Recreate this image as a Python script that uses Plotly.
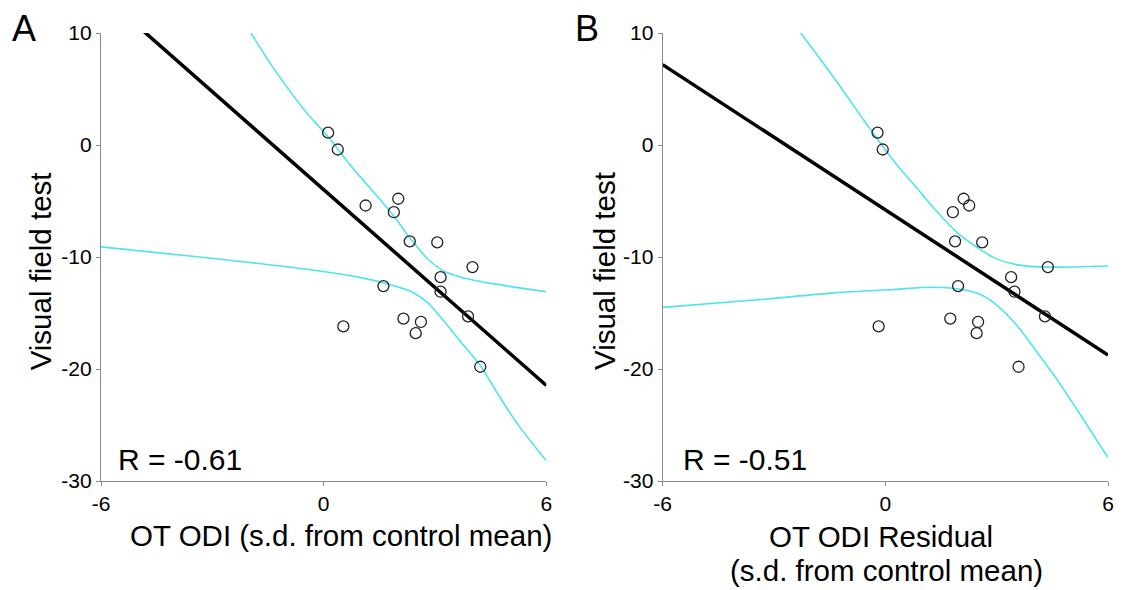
import numpy as np
import plotly.graph_objects as go
from plotly.subplots import make_subplots

# ---- Data ----
visual_field = [1.1, -0.4, -5.4, -4.8, -6.0, -8.6, -8.7, -10.9, -11.8, -13.1,
                -12.6, -16.2, -15.5, -15.8, -16.8, -15.3, -19.8]
ot_odi = [0.12, 0.38, 1.13, 2.01, 1.89, 2.32, 3.06, 4.01, 3.15, 3.15,
          1.61, 0.53, 2.15, 2.62, 2.48, 3.89, 4.22]
ot_odi_resid = [-0.21, -0.07, 2.26, 2.11, 1.82, 1.88, 2.61, 4.38, 3.39, 3.48,
                1.96, -0.18, 1.75, 2.50, 2.46, 4.30, 3.59]

# confidence band curves (panel A)
a_low_x = [-6.0, -3.35, -0.67, 0.94, 1.83, 2.37, 2.81, 3.26, 3.70, 4.24, 4.69, 5.22, 6.0]
a_low_y = [-9.1, -10.0, -11.0, -11.8, -12.5, -13.1, -14.1, -15.8, -17.6, -19.8, -22.2, -24.9, -28.2]
a_up_x = [-1.96, -1.38, -0.49, 0.13, 0.67, 1.29, 1.83, 2.37, 2.81, 3.26, 3.70, 4.60, 6.0]
a_up_y = [10.0, 7.0, 3.0, 0.7, -1.6, -4.0, -6.1, -8.5, -10.2, -11.3, -11.8, -12.4, -13.1]
# confidence band curves (panel B)
b_low_x = [-6.0, -3.35, -1.38, 0.22, 1.29, 2.14, 2.59, 3.04, 3.57, 4.11, 4.64, 5.18, 6.0]
b_low_y = [-14.5, -13.8, -13.2, -12.9, -12.7, -12.95, -13.4, -14.4, -16.2, -18.6, -21.0, -23.7, -27.9]
b_up_x = [-2.28, -1.34, -0.45, 0.27, 0.89, 1.43, 1.96, 2.50, 2.95, 3.57, 4.37, 6.0]
b_up_y = [10.0, 5.8, 1.6, -1.6, -4.0, -6.1, -7.9, -9.2, -10.1, -10.7, -10.9, -10.8]

r_labels = ["R = -0.61", "R = -0.51"]
panel_letters = ["A", "B"]
x_ticks = [-6, 0, 6]
x_tick_text = ["-6", "0", "6"]
y_ticks = [10, 0, -10, -20, -30]
y_tick_text = ["10", "0", "-10", "-20", "-30"]

FONT = "Liberation Sans, Arial, Helvetica, sans-serif"
CYAN = "#4fe3ef"

fig = make_subplots(rows=1, cols=2)

grid = np.array([-6.0, 6.0])
panels = [
    (ot_odi, (a_low_x, a_low_y), (a_up_x, a_up_y)),
    (ot_odi_resid, (b_low_x, b_low_y), (b_up_x, b_up_y)),
]
for col, (xs, low, up) in enumerate(panels, start=1):
    b, a = np.polyfit(np.asarray(xs), np.asarray(visual_field), 1)
    for bx, by in (low, up):
        fig.add_trace(go.Scatter(x=bx, y=by, mode="lines",
                                 line=dict(color=CYAN, width=1.6, shape="spline",
                                           smoothing=0.8),
                                 hoverinfo="skip", showlegend=False), row=1, col=col)
    fig.add_trace(go.Scatter(x=grid, y=a + b * grid, mode="lines",
                             line=dict(color="black", width=3.5),
                             showlegend=False), row=1, col=col)
    fig.add_trace(go.Scatter(x=xs, y=visual_field, mode="markers",
                             marker=dict(symbol="circle-open", size=11,
                                         color="#222", line=dict(width=1.3)),
                             showlegend=False, cliponaxis=False), row=1, col=col)

axis_common = dict(showgrid=False, zeroline=False, showline=True,
                   linecolor="#8a8a8a", linewidth=1.2, ticks="outside",
                   ticklen=4, tickcolor="#8a8a8a", tickwidth=1.2,
                   tickfont=dict(family=FONT, size=21, color="black"))

W, H = 1125, 590
L, R, T, B = 101, 11, 33, 109
pw = W - L - R
ph = H - T - B

for i in (1, 2):
    fig.update_xaxes(range=[-6, 6], tickvals=x_ticks, ticktext=x_tick_text,
                     **axis_common, row=1, col=i)
    fig.update_yaxes(range=[-30, 10], tickvals=y_ticks, ticktext=y_tick_text,
                     **axis_common, row=1, col=i)
fig.update_xaxes(domain=[0, 448 / pw], row=1, col=1)
fig.update_xaxes(domain=[(666 - L) / pw, 1], row=1, col=2)


def px(xp):
    return (xp - L) / pw


def py(yp):
    return (H - B - yp) / ph


TITLE = 29.5
ann = []
for letter, xx in zip(panel_letters, [24, 590]):
    ann.append(dict(text=letter, x=px(xx), y=py(28), xref="paper", yref="paper",
                    showarrow=False, font=dict(family=FONT, size=36, color="black"),
                    xanchor="center", yanchor="middle"))
for lab, xx in zip(r_labels, [116, 684]):
    ann.append(dict(text=lab, x=px(xx), y=py(459), xref="paper", yref="paper",
                    showarrow=False, font=dict(family=FONT, size=30, color="black"),
                    xanchor="left", yanchor="middle"))
for xx in [40, 607]:
    ann.append(dict(text="Visual field test", x=px(xx), y=py(271), xref="paper",
                    yref="paper", showarrow=False, textangle=-90,
                    font=dict(family=FONT, size=TITLE, color="black"),
                    xanchor="center", yanchor="middle"))
ann.append(dict(text="OT ODI (s.d. from control mean)", x=px(342), y=py(535),
                xref="paper", yref="paper", showarrow=False,
                font=dict(family=FONT, size=TITLE, color="black"),
                xanchor="center", yanchor="middle"))
ann.append(dict(text="OT ODI Residual", x=px(886), y=py(536),
                xref="paper", yref="paper", showarrow=False,
                font=dict(family=FONT, size=TITLE, color="black"),
                xanchor="center", yanchor="middle"))
ann.append(dict(text="(s.d. from control mean)", x=px(891), y=py(570),
                xref="paper", yref="paper", showarrow=False,
                font=dict(family=FONT, size=TITLE, color="black"),
                xanchor="center", yanchor="middle"))

fig.update_layout(width=W, height=H, margin=dict(l=L, r=R, t=T, b=B),
                  plot_bgcolor="white", paper_bgcolor="white",
                  annotations=ann, showlegend=False)

fig.write_html("out.html")
